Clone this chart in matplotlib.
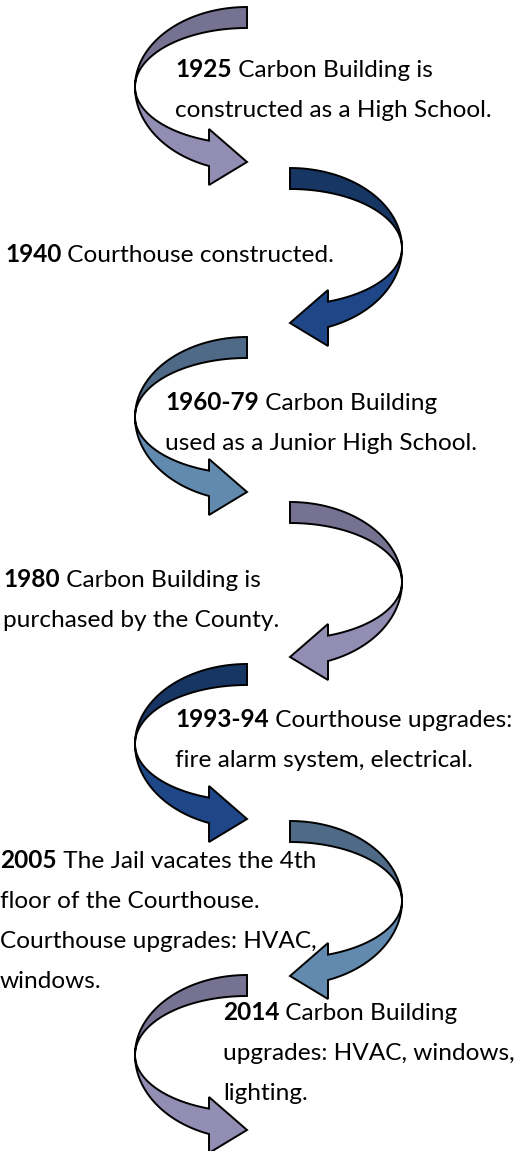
import numpy as np
import matplotlib
matplotlib.use("Agg")
import matplotlib.pyplot as plt
from matplotlib.patches import Polygon

# ---------------- data ----------------
years = ["1925", "1940", "1960-79", "1980", "1993-94", "2005", "2014"]
descriptions = [
    ["Carbon Building is", "constructed as a High School."],
    ["Courthouse constructed."],
    ["Carbon Building", "used as a Junior High School."],
    ["Carbon Building is", "purchased by the County."],
    ["Courthouse upgrades:", "fire alarm system, electrical."],
    ["The Jail vacates the 4th", "floor of the Courthouse.",
     "Courthouse upgrades: HVAC,", "windows."],
    ["Carbon Building", "upgrades: HVAC, windows,", "lighting."],
]
arrow_sides = ["left", "right", "left", "right", "left", "right", "left"]
arrow_palette = ["purple", "navy", "steel", "purple", "navy", "steel", "purple"]

# ---------------- layout / style ----------------
W, H = 531, 1151
colors = {
    "purple": ("#767291", "#918db3"),
    "navy": ("#183663", "#1f4787"),
    "steel": ("#4e6a87", "#6289ae"),
}
arrow_tail_x = {"left": 247, "right": 290}
arrow_tops = [7, 168, 337, 502, 664, 821, 975]
text_x = [175, 5, 165, 3, 175, 0, 223]
text_y = [77, 262, 410, 587, 727, 868, 1020]
line_gap = 40

fig = plt.figure(figsize=(W / 100, H / 100), dpi=100)
ax = fig.add_axes([0, 0, 1, 1])
ax.set_xlim(0, W)
ax.set_ylim(H, 0)
ax.axis("off")

A = 112          # horizontal reach of the curve
B_OUT_TOP, B_IN_TOP = 80, 59
B_UP_LOW, B_OUT_LOW = 57, 84
HEAD_BASE = 38   # distance of head base from tail x
BARB_TOP, BARB_BOT, TIP_Y = 122, 178, 155


def curved_arrow(cx, y0, side, dark, light):
    s = -1 if side == "left" else 1
    cy = y0 + 80
    t = np.linspace(0, np.pi / 2, 80)
    xo = cx + s * A * np.sin(t)
    top_outer = np.column_stack([xo, cy - B_OUT_TOP * np.cos(t)])
    top_inner = np.column_stack([xo, cy - B_IN_TOP * np.cos(t)])[::-1]
    ax.add_patch(Polygon(np.vstack([top_outer, top_inner]), closed=True,
                         facecolor=dark, edgecolor="black", lw=1.4,
                         joinstyle="miter", zorder=2))
    t_end = np.pi - np.arcsin(HEAD_BASE / A)
    t2 = np.linspace(np.pi / 2, t_end, 80)
    x2 = cx + s * A * np.sin(t2)
    upper = np.column_stack([x2, cy - B_UP_LOW * np.cos(t2)])
    lower = np.column_stack([x2, cy - B_OUT_LOW * np.cos(t2)])[::-1]
    bx = cx + s * HEAD_BASE
    head = np.array([[bx, y0 + BARB_TOP], [cx, y0 + TIP_Y], [bx, y0 + BARB_BOT]])
    ax.add_patch(Polygon(np.vstack([upper, head, lower]), closed=True,
                         facecolor=light, edgecolor="black", lw=1.4,
                         joinstyle="miter", zorder=3))


for side, pal, y0 in zip(arrow_sides, arrow_palette, arrow_tops):
    dark, light = colors[pal]
    curved_arrow(arrow_tail_x[side], y0, side, dark, light)

family = ["Lato", "DejaVu Sans"]
renderer = fig.canvas.get_renderer()

# fit font size so the reference line spans ~317 px
probe = ax.text(0, 0, "constructed as a High School.", fontsize=20, family=family)
pw = probe.get_window_extent(renderer).width
probe.remove()
fs = 20 * 317 / pw

for yr, lines, x, y in zip(years, descriptions, text_x, text_y):
    tb = ax.text(x, y, yr, fontsize=fs, fontweight="bold", family=family,
                 va="baseline", ha="left", color="black", zorder=5)
    bw = tb.get_window_extent(renderer).width
    ax.text(x + bw, y, " " + lines[0], fontsize=fs, family=family,
            va="baseline", ha="left", color="black", zorder=5)
    for i, ln in enumerate(lines[1:], start=1):
        ax.text(x, y + i * line_gap, ln, fontsize=fs, family=family,
                va="baseline", ha="left", color="black", zorder=5)

fig.savefig("out.png", dpi=100)
